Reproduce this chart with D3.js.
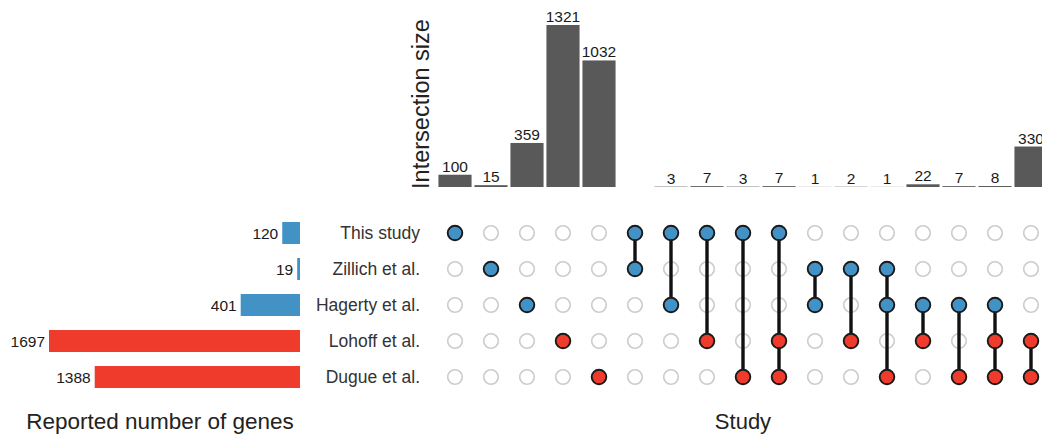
<!DOCTYPE html>
<html>
<head>
<meta charset="utf-8">
<script src="https://cdn.jsdelivr.net/npm/d3@7/dist/d3.min.js"></script>
<style>
  html, body { margin: 0; padding: 0; background: #fff; overflow: hidden; }
  svg { display: block; }
  text { font-family: "Liberation Sans", Arial, Helvetica, sans-serif; }
</style>
</head>
<body>
<svg id="chart" width="1042" height="435"></svg>
<script>
// ---- data ----
const sets = ["This study", "Zillich et al.", "Hagerty et al.", "Lohoff et al.", "Dugue et al."];
const setSizes = [120, 19, 401, 1697, 1388];
const setGroup = ["blue", "blue", "blue", "red", "red"];

// membership of each intersection column (indices into sets)
const intersections = [
  [0], [1], [2], [3], [4],
  [0, 1], [0, 2], [0, 3], [0, 4], [0, 3, 4],
  [1, 2], [1, 3], [1, 2, 4],
  [2, 3], [2, 4], [2, 3, 4],
  [3, 4]
];
// bar values as drawn above each column (column 6 has no bar in the reference)
const intersectionSizes = [100, 15, 359, 1321, 1032, null, 3, 7, 3, 7, 1, 2, 1, 22, 7, 8, 330];

const colors = { blue: "#4292c6", red: "#ef3b2c" };

// ---- layout ----
const svg = d3.select("#chart");
const cols = d3.range(intersections.length);

const x = d3.scaleBand().domain(cols).range([437, 437 + 36 * cols.length])
  .paddingInner(0.08).paddingOuter(0.04);
const yBar = d3.scaleLinear().domain([0, 1321]).range([187, 25]);
const row = d3.scaleBand().domain(sets).range([215, 395])
  .paddingInner(0.39).paddingOuter(0.195);
const xSet = d3.scaleLinear().domain([0, 1697]).range([300, 49]);

// ---- intersection bars ----
const barData = cols.filter(i => intersectionSizes[i] != null);
svg.append("g").selectAll("rect").data(barData).join("rect")
  .attr("x", i => x(i))
  .attr("width", x.bandwidth())
  .attr("y", i => yBar(intersectionSizes[i]))
  .attr("height", i => yBar(0) - yBar(intersectionSizes[i]))
  .attr("fill", "#595959");

svg.append("g").selectAll("text").data(barData).join("text")
  .attr("x", i => x(i) + x.bandwidth() / 2)
  .attr("y", i => yBar(intersectionSizes[i]) - 3)
  .attr("text-anchor", "middle")
  .attr("font-size", 15.5)
  .attr("fill", "#1a1a1a")
  .text(i => intersectionSizes[i]);

svg.append("text")
  .attr("transform", "translate(429,104) rotate(-90)")
  .attr("text-anchor", "middle")
  .attr("font-size", 23.5)
  .attr("fill", "#222")
  .text("Intersection size");

// ---- set size bars ----
svg.append("g").selectAll("rect").data(sets).join("rect")
  .attr("x", (d, i) => xSet(setSizes[i]))
  .attr("width", (d, i) => xSet(0) - xSet(setSizes[i]))
  .attr("y", d => row(d))
  .attr("height", row.bandwidth())
  .attr("fill", (d, i) => colors[setGroup[i]]);

svg.append("g").selectAll("text").data(sets).join("text")
  .attr("x", (d, i) => xSet(setSizes[i]) - 4)
  .attr("y", d => row(d) + row.bandwidth() / 2 + 5.5)
  .attr("text-anchor", "end")
  .attr("font-size", 15.5)
  .attr("fill", "#1a1a1a")
  .text((d, i) => setSizes[i]);

// set names
svg.append("g").selectAll("text").data(sets).join("text")
  .attr("x", 420)
  .attr("y", d => row(d) + row.bandwidth() / 2 + 6)
  .attr("text-anchor", "end")
  .attr("font-size", 17.5)
  .attr("fill", "#333")
  .text(d => d);

// ---- dot matrix ----
const cy = s => row(s) + row.bandwidth() / 2;
const cx = i => x(i) + x.bandwidth() / 2;

const empty = [];
cols.forEach(i => sets.forEach((s, k) => {
  if (!intersections[i].includes(k)) empty.push({ i, k });
}));
svg.append("g").selectAll("circle").data(empty).join("circle")
  .attr("cx", d => cx(d.i))
  .attr("cy", d => cy(sets[d.k]))
  .attr("r", 7.3)
  .attr("fill", "#fff")
  .attr("stroke", "#cccccc")
  .attr("stroke-width", 1.6);

svg.append("g").selectAll("line").data(cols.filter(i => intersections[i].length > 1)).join("line")
  .attr("x1", cx).attr("x2", cx)
  .attr("y1", i => cy(sets[d3.min(intersections[i])]))
  .attr("y2", i => cy(sets[d3.max(intersections[i])]))
  .attr("stroke", "#111")
  .attr("stroke-width", 3.4);

const filled = [];
cols.forEach(i => intersections[i].forEach(k => filled.push({ i, k })));
svg.append("g").selectAll("circle").data(filled).join("circle")
  .attr("cx", d => cx(d.i))
  .attr("cy", d => cy(sets[d.k]))
  .attr("r", 7.3)
  .attr("fill", d => colors[setGroup[d.k]])
  .attr("stroke", "#1a1a1a")
  .attr("stroke-width", 1.9);

// ---- axis titles ----
svg.append("text")
  .attr("x", 160).attr("y", 429)
  .attr("text-anchor", "middle")
  .attr("font-size", 22.5)
  .attr("fill", "#222")
  .text("Reported number of genes");

svg.append("text")
  .attr("x", 743).attr("y", 429)
  .attr("text-anchor", "middle")
  .attr("font-size", 22)
  .attr("fill", "#222")
  .text("Study");
</script>
</body>
</html>
